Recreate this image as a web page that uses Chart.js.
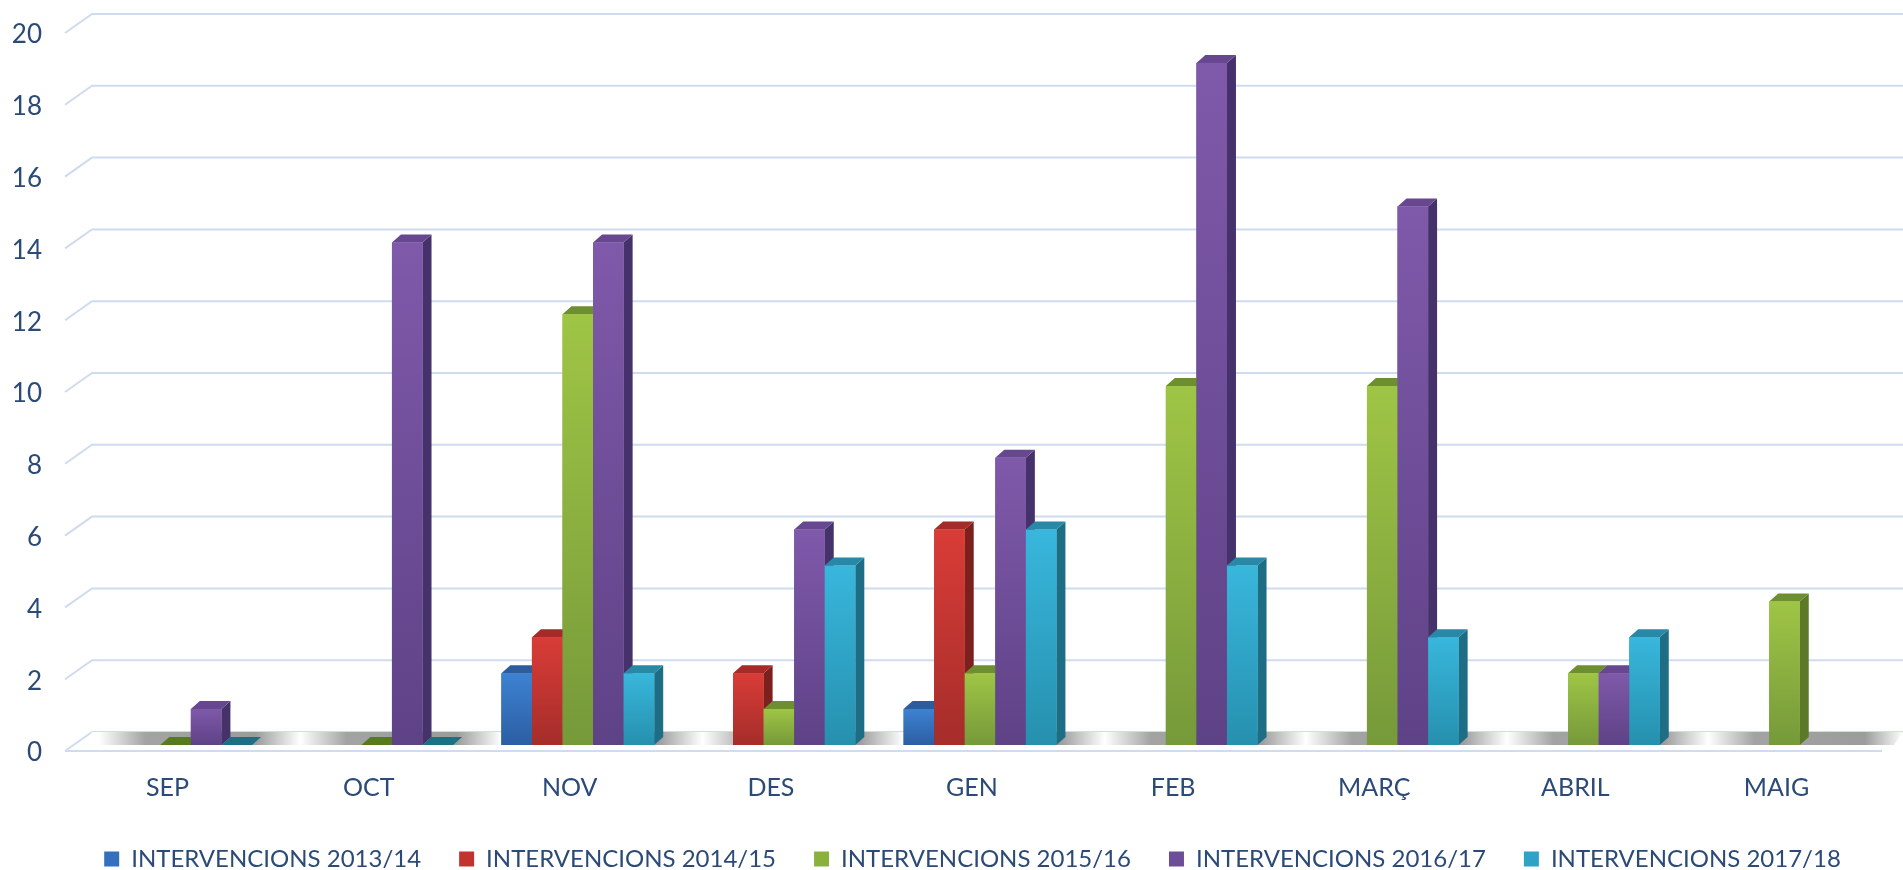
<!DOCTYPE html>
<html>
<head>
<meta charset="utf-8">
<title>Intervencions</title>
<script src="https://cdn.jsdelivr.net/npm/chart.js@4.4.1/dist/chart.umd.min.js"></script>
<style>
  html, body { margin: 0; padding: 0; background: #fff; }
  #wrap { width: 1903px; height: 870px; }
</style>
</head>
<body>
<div id="wrap"><canvas id="intervChart" width="1903" height="870"></canvas></div>
<script>
const months = ["SEP", "OCT", "NOV", "DES", "GEN", "FEB", "MARÇ", "ABRIL", "MAIG"];
const seriesNames = [
  "INTERVENCIONS 2013/14",
  "INTERVENCIONS 2014/15",
  "INTERVENCIONS 2015/16",
  "INTERVENCIONS 2016/17",
  "INTERVENCIONS 2017/18"
];
const interv1314 = [null, null, 2, null, 1, null, null, null, null];
const interv1415 = [null, null, 3, 2, 6, null, null, null, null];
const interv1516 = [0, 0, 12, 1, 2, 10, 10, 2, 4];
const interv1617 = [1, 14, 14, 6, 8, 19, 15, 2, null];
const interv1718 = [0, 0, 2, 5, 6, 5, 3, 3, null];
const yMin = 0, yMax = 20, yStep = 2;

const textColor = "#2b4a78";
const DX = 9, DY = 8; // depth of the 3d boxes

const palette = [
  { mid: "#3470bd", light: "#3d82d2", dark: "#2c5ea3", side: "#254f86", top: "#2d5c9c", flat: "#2d5c9c" },
  { mid: "#c2332f", light: "#d93c37", dark: "#a52d2a", side: "#7c201e", top: "#a42b28", flat: "#a42b28" },
  { mid: "#8bb13d", light: "#9fc545", dark: "#76993a", side: "#5c7829", top: "#6e8f2f", flat: "#587a1e" },
  { mid: "#6c4d98", light: "#7f59aa", dark: "#5e4286", side: "#45326a", top: "#664790", flat: "#664790" },
  { mid: "#2fa3c6", light: "#38b7dc", dark: "#2690ae", side: "#1d6d85", top: "#2888a6", flat: "#1d6f82" }
];

function frontFill(c) {
  return (ctx) => {
    const chart = ctx.chart;
    if (!chart.chartArea || ctx.type !== "data" || !ctx.raw) return c.mid;
    const y = chart.scales.y;
    const g = chart.ctx.createLinearGradient(0, y.getPixelForValue(ctx.raw), 0, y.getPixelForValue(0));
    g.addColorStop(0, c.light);
    g.addColorStop(1, c.dark);
    return g;
  };
}

function poly(ctx, pts) {
  ctx.beginPath();
  ctx.moveTo(pts[0][0], pts[0][1]);
  for (let i = 1; i < pts.length; i++) ctx.lineTo(pts[i][0], pts[i][1]);
  ctx.closePath();
  ctx.fill();
}

const bars3d = {
  id: "bars3d",
  afterLayout(chart) {
    // legend row sits a little right of the canvas centre
    chart.legend.left += 30;
    chart.legend.right += 30;
  },
  beforeDatasetsDraw(chart) {
    const { ctx, chartArea: a, scales: { x, y } } = chart;
    const W = chart.width;
    ctx.save();

    // back wall gridlines with the slanted side edge
    ctx.strokeStyle = "#d0dbf0";
    ctx.lineWidth = 2;
    for (let v = yMin; v <= yMax; v += yStep) {
      const py = y.getPixelForValue(v);
      ctx.beginPath();
      ctx.moveTo(a.left - 10, py + 6);
      ctx.lineTo(a.left + 17, py - 13);
      ctx.lineTo(W, py - 13);
      ctx.stroke();
    }

    // floor shadow band
    const y0 = y.getPixelForValue(0);
    const cw = x.getPixelForValue(1) - x.getPixelForValue(0);
    const g = ctx.createLinearGradient(0, 0, W, 0);
    const stop = (px, col) => g.addColorStop(Math.min(1, Math.max(0, px / W)), col);
    months.forEach((m, i) => {
      const c = x.getPixelForValue(i);
      stop(c - 0.38 * cw, "#ffffff");
      stop(c - 0.15 * cw, "#a3a3a3");
      stop(c + 0.40 * cw, "#9c9c9c");
    });
    stop(x.getPixelForValue(months.length - 1) + 0.62 * cw, "#ffffff");
    ctx.fillStyle = g;
    ctx.beginPath();
    ctx.moveTo(a.left + 8, y0);
    ctx.lineTo(a.left + 17, y0 - 13);
    ctx.lineTo(a.right + 18, y0 - 13);
    ctx.lineTo(a.right + 9, y0);
    ctx.closePath();
    ctx.fill();

    // front floor edge
    ctx.beginPath();
    ctx.moveTo(a.left - 10, y0 + 6);
    ctx.lineTo(a.right - 3, y0 + 6);
    ctx.stroke();
    ctx.restore();
  },
  afterDatasetsDraw(chart) {
    const { ctx } = chart;
    const metas = chart.getSortedVisibleDatasetMetas();
    ctx.save();
    // paint left to right so each box hides the side of its left neighbour
    for (let i = 0; i < months.length; i++) {
      metas.forEach(meta => {
        const raw = chart.data.datasets[meta.index].data[i];
        if (raw == null) return;
        const bar = meta.data[i];
        const { x, y, base, width } = bar.getProps(["x", "y", "base", "width"], true);
        const c = palette[meta.index];
        const l = x - width / 2, r = x + width / 2;
        if (y < base) {
          ctx.fillStyle = c.side;
          poly(ctx, [[r, y], [r + DX, y - DY], [r + DX, base - DY], [r, base]]);
        }
        ctx.fillStyle = raw === 0 ? c.flat : c.top;
        poly(ctx, [[l, y], [l + DX, y - DY], [r + DX, y - DY], [r, y]]);
        bar.draw(ctx, chart.chartArea);
      });
    }
    ctx.restore();
  }
};

const seriesData = [interv1314, interv1415, interv1516, interv1617, interv1718];

new Chart(document.getElementById("intervChart"), {
  type: "bar",
  data: {
    labels: months,
    datasets: seriesData.map((d, i) => ({
      label: seriesNames[i],
      data: d,
      backgroundColor: frontFill(palette[i]),
      borderWidth: 0,
      categoryPercentage: 0.76,
      barPercentage: 1
    }))
  },
  options: {
    responsive: false,
    animation: false,
    devicePixelRatio: 1,
    layout: { padding: { top: 27, right: 18, bottom: -11, left: 0 } },
    plugins: {
      legend: {
        position: "bottom",
        labels: {
          boxWidth: 15,
          boxHeight: 15,
          padding: 38,
          color: textColor,
          font: { family: "Lato", size: 24 },
          generateLabels(chart) {
            const items = Chart.defaults.plugins.legend.labels.generateLabels(chart);
            items.forEach((it, i) => {
              it.fillStyle = palette[i].mid;
              it.strokeStyle = palette[i].mid;
              it.lineWidth = 0;
            });
            return items;
          }
        }
      },
      tooltip: { enabled: false }
    },
    scales: {
      x: {
        grid: { display: false, drawTicks: false },
        border: { display: false },
        ticks: { color: textColor, font: { family: "Lato", size: 25 }, padding: 28, labelOffset: -8 },
        afterFit(s) { s.height = 64; }
      },
      y: {
        min: yMin,
        max: yMax,
        grid: { display: false, drawTicks: false },
        border: { display: false },
        ticks: { stepSize: yStep, color: textColor, font: { family: "Lato", size: 26 }, padding: 33, labelOffset: 8 },
        afterFit(s) {
          s.width = 75;
          s.paddingTop = 0;
          s.paddingBottom = 0;
        }
      }
    }
  },
  plugins: [bars3d]
});
</script>
</body>
</html>
